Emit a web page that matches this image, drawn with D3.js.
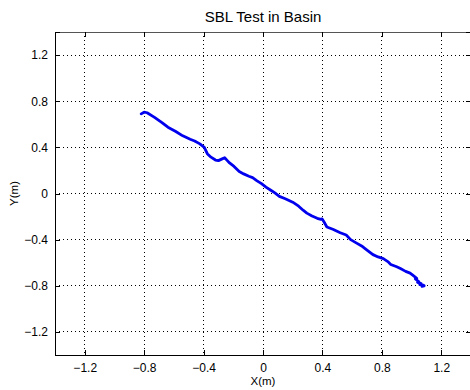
<!DOCTYPE html>
<html>
<head>
<meta charset="utf-8">
<script src="https://cdn.jsdelivr.net/npm/d3@7"></script>
<style>
  body { margin: 0; background: #fff; }
  text { font-family: "Liberation Sans", Arial, sans-serif; fill: #000; }
</style>
</head>
<body>
<div id="chart"></div>
<script>
// data (metres)
const trackX = [-0.820, -0.800, -0.780, -0.730, -0.680, -0.640, -0.590, -0.540, -0.490, -0.460,
  -0.425, -0.395, -0.375, -0.350, -0.320, -0.300, -0.275, -0.258, -0.240, -0.225,
  -0.195, -0.160, -0.130, -0.095, -0.070, -0.040, -0.010, 0.020, 0.050, 0.080,
  0.110, 0.150, 0.200, 0.240, 0.270, 0.295, 0.330, 0.365, 0.390, 0.398, 0.412,
  0.430, 0.470, 0.520, 0.560, 0.590, 0.630, 0.670, 0.700, 0.740, 0.775, 0.810,
  0.840, 0.860, 0.900, 0.925, 0.960, 0.990, 1.010, 1.035, 1.025, 1.050,
  1.040, 1.065, 1.055, 1.080, 1.070, 1.085];
const trackY = [0.690, 0.705, 0.700, 0.660, 0.615, 0.575, 0.540, 0.500, 0.470, 0.455,
  0.430, 0.400, 0.345, 0.315, 0.290, 0.285, 0.300, 0.310, 0.285, 0.265,
  0.235, 0.190, 0.170, 0.150, 0.138, 0.110, 0.085, 0.055, 0.030, 0.005,
  -0.025, -0.045, -0.075, -0.110, -0.145, -0.170, -0.195, -0.215, -0.225, -0.220, -0.250,
  -0.290, -0.310, -0.340, -0.360, -0.400, -0.430, -0.460, -0.490, -0.530, -0.550, -0.565,
  -0.590, -0.615, -0.635, -0.650, -0.675, -0.690, -0.710, -0.735, -0.740, -0.765,
  -0.770, -0.780, -0.790, -0.795, -0.805, -0.800];

const tickVals = [-1.2, -0.8, -0.4, 0, 0.4, 0.8, 1.2];
const axisRange = [-1.4, 1.4];

const margin = {top: 32, left: 55};
const width = 416, height = 323;

const svg = d3.select('#chart').append('svg')
    .attr('width', 470)
    .attr('height', 390);

const g = svg.append('g')
    .attr('transform', `translate(${margin.left},${margin.top})`);

const x = d3.scaleLinear().domain(axisRange).range([0, width]);
const y = d3.scaleLinear().domain(axisRange).range([height, 0]);
const fmt = d3.format('');

// grid
g.append('g').selectAll('line')
    .data(tickVals)
    .enter().append('line')
    .attr('x1', d => x(d)).attr('x2', d => x(d))
    .attr('y1', 0).attr('y2', height)
    .attr('stroke', '#000')
    .attr('stroke-width', 1)
    .attr('stroke-dasharray', '1,3')
    .attr('shape-rendering', 'crispEdges');
g.append('g').selectAll('line')
    .data(tickVals)
    .enter().append('line')
    .attr('y1', d => y(d)).attr('y2', d => y(d))
    .attr('x1', 0).attr('x2', width)
    .attr('stroke', '#000')
    .attr('stroke-width', 1)
    .attr('stroke-dasharray', '1,3')
    .attr('shape-rendering', 'crispEdges');

// axes, matlab style ticks pointing in
const xAxis = g.append('g')
    .attr('transform', `translate(0,${height})`)
    .call(d3.axisBottom(x).tickValues(tickVals).tickSize(-5).tickPadding(8).tickFormat(fmt));
const xTop = g.append('g')
    .call(d3.axisTop(x).tickValues(tickVals).tickSize(-5).tickFormat(''));
const yAxis = g.append('g')
    .call(d3.axisLeft(y).tickValues(tickVals).tickSize(-5).tickPadding(7).tickFormat(fmt));
const yRight = g.append('g')
    .attr('transform', `translate(${width},0)`)
    .call(d3.axisRight(y).tickValues(tickVals).tickSize(-5).tickFormat(''));

[xAxis, xTop, yAxis, yRight].forEach(a => {
    a.select('.domain').attr('stroke', '#000').attr('shape-rendering', 'crispEdges');
    a.selectAll('.tick line').attr('stroke', '#000').attr('shape-rendering', 'crispEdges');
    a.selectAll('text').attr('font-size', 12).attr('font-family', '"Liberation Sans", Arial, sans-serif');
});
xTop.select('.domain').attr('stroke', '#555').attr('stroke-width', 1.5);

// trajectory
const pts = trackX.map((d, i) => [d, trackY[i]]);
g.append('path')
    .datum(pts)
    .attr('fill', 'none')
    .attr('stroke', '#0000ee')
    .attr('stroke-width', 2.8)
    .attr('stroke-linejoin', 'round')
    .attr('stroke-linecap', 'round')
    .attr('d', d3.line().x(d => x(d[0])).y(d => y(d[1])));

// labels
svg.append('text')
    .attr('x', margin.left + width / 2)
    .attr('y', 22)
    .attr('text-anchor', 'middle')
    .attr('font-size', 15)
    .text('SBL Test in Basin');

svg.append('text')
    .attr('x', margin.left + x(0))
    .attr('y', 385)
    .attr('text-anchor', 'middle')
    .attr('font-size', 11.5)
    .text('X(m)');

svg.append('text')
    .attr('transform', `translate(18,${margin.top + y(0)}) rotate(-90)`)
    .attr('text-anchor', 'middle')
    .attr('font-size', 11.5)
    .text('Y(m)');
</script>
</body>
</html>
